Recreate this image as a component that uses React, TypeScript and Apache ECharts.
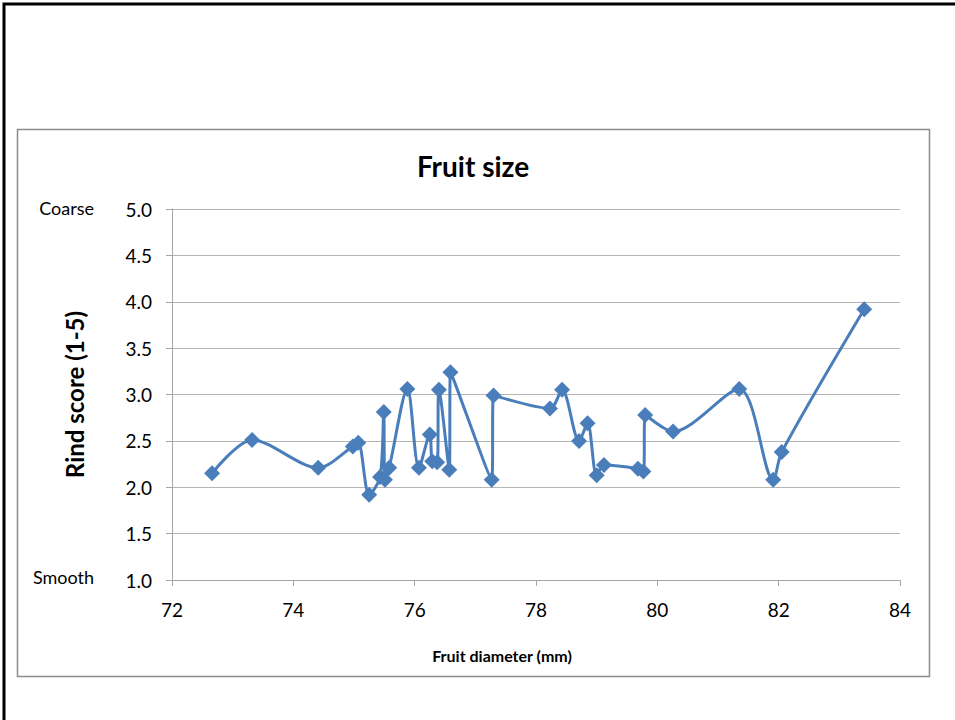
import React, { useEffect, useRef } from "react";
import * as echarts from "echarts";

const diameters = [
  72.66, 73.32, 74.41, 74.98, 75.07, 75.25, 75.43, 75.49, 75.51, 75.58,
  75.88, 76.07, 76.25, 76.29, 76.37, 76.4, 76.57, 76.59, 77.27, 77.3,
  78.23, 78.43, 78.71, 78.85, 79.0, 79.12, 79.68, 79.77, 79.8, 80.26,
  81.35, 81.91, 82.05, 83.41,
];
const rindScores = [
  2.15, 2.51, 2.21, 2.44, 2.48, 1.92, 2.11, 2.81, 2.08, 2.21,
  3.06, 2.21, 2.57, 2.28, 2.27, 3.05, 2.19, 3.24, 2.08, 2.99,
  2.85, 3.05, 2.5, 2.69, 2.13, 2.24, 2.2, 2.17, 2.78, 2.6,
  3.06, 2.08, 2.38, 3.92,
];
const titleText = "Fruit size";
const xName = "Fruit diameter (mm)";
const yName = "Rind score (1-5)";
const yEndLabels = ["Coarse", "Smooth"];

const FONT = "Lato, 'Open Sans', sans-serif";
const BLUE = "#4A7EBB";

export default function App() {
  const ref = useRef<HTMLDivElement>(null);
  useEffect(() => {
    if (!ref.current) return;
    const chart = echarts.init(ref.current, null, { renderer: "svg" });
    chart.setOption({
      animation: false,
      backgroundColor: "#ffffff",
      textStyle: { fontFamily: FONT },
      graphic: [
        {
          type: "rect",
          z: -1,
          shape: { x: 4, y: 4, width: 1000, height: 1000 },
          style: { fill: "none", stroke: "#000", lineWidth: 3 },
        },
        {
          type: "rect",
          z: -1,
          shape: { x: 17.5, y: 129.5, width: 912, height: 547 },
          style: { fill: "none", stroke: "#8c8c8c", lineWidth: 1.5 },
        },
        {
          type: "text",
          x: 473,
          y: 166,
          style: {
            text: titleText,
            fill: "#000",
            font: `bold 28px ${FONT}`,
            textAlign: "center",
            textVerticalAlign: "middle",
          },
        },
        {
          type: "text",
          x: 502,
          y: 655,
          style: {
            text: xName,
            fill: "#000",
            font: `bold 16px ${FONT}`,
            textAlign: "center",
            textVerticalAlign: "middle",
          },
        },
        {
          type: "text",
          x: 94,
          y: 208,
          style: {
            text: yEndLabels[0],
            fill: "#000",
            font: `18px ${FONT}`,
            textAlign: "right",
            textVerticalAlign: "middle",
          },
        },
        {
          type: "text",
          x: 94,
          y: 577,
          style: {
            text: yEndLabels[1],
            fill: "#000",
            font: `18px ${FONT}`,
            textAlign: "right",
            textVerticalAlign: "middle",
          },
        },
      ],
      grid: { left: 172, right: 55, top: 209, bottom: 140, containLabel: false },
      xAxis: {
        type: "value",
        min: 72,
        max: 84,
        interval: 2,
        axisLine: { show: true, lineStyle: { color: "#a6a6a6", width: 1 } },
        axisTick: { show: true, length: 6, lineStyle: { color: "#a6a6a6" } },
        axisLabel: { fontFamily: FONT, fontSize: 19, color: "#000", margin: 20 },
        splitLine: { show: false },
      },
      yAxis: {
        type: "value",
        min: 1,
        max: 5,
        interval: 0.5,
        name: yName,
        nameLocation: "middle",
        nameGap: 86,
        nameRotate: 90,
        nameTextStyle: { fontFamily: FONT, fontSize: 24, fontWeight: "bold", color: "#000" },
        axisLine: { show: true, lineStyle: { color: "#a6a6a6", width: 1 } },
        axisTick: { show: true, length: 6, lineStyle: { color: "#a6a6a6" } },
        axisLabel: {
          fontFamily: FONT,
          fontSize: 19,
          color: "#000",
          margin: 20,
          formatter: (v: number) => v.toFixed(1),
        },
        splitLine: { show: true, lineStyle: { color: "#b5b5b5", width: 1 } },
      },
      series: [
        {
          type: "line",
          data: diameters.map((d, i) => [d, rindScores[i]]),
          smooth: 0.3,
          symbol: "diamond",
          symbolSize: 16,
          lineStyle: { color: BLUE, width: 3 },
          itemStyle: { color: BLUE },
        },
      ],
    });
    return () => chart.dispose();
  }, []);
  return (
    <div
      ref={ref}
      style={{ position: "fixed", left: 0, top: 0, width: 955, height: 720 }}
    />
  );
}
